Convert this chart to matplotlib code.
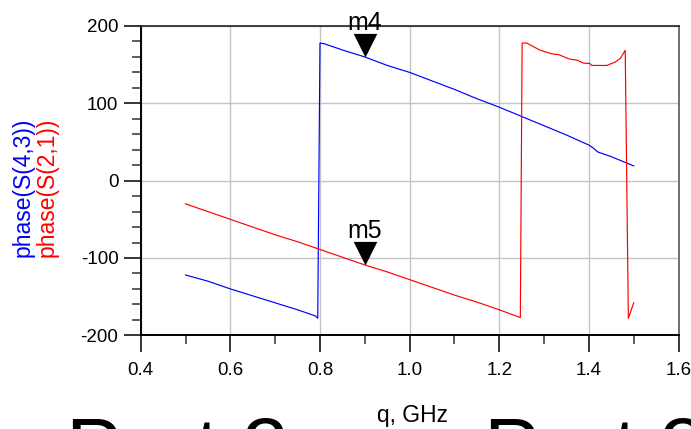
#!/usr/bin/env python3
"""Fase de S(4,3) y S(2,1) frente a frecuencia, con marcadores m4 / m5."""

import matplotlib
matplotlib.use("Agg")
import matplotlib.pyplot as plt
from matplotlib.patches import Rectangle
from matplotlib.ticker import MultipleLocator, FormatStrFormatter

plt.rcParams["font.family"] = ["Liberation Sans", "DejaVu Sans"]
plt.rcParams["axes.unicode_minus"] = False

# Datos (freq en GHz, fase en grados)
freq_s43 = [0.50, 0.55, 0.60, 0.65, 0.70, 0.75, 0.79, 0.795,
            0.800, 0.81, 0.85, 0.90, 0.95, 1.00, 1.05, 1.10, 1.15, 1.20,
            1.25, 1.30, 1.35, 1.40, 1.41, 1.42, 1.45, 1.50]
phase_s43 = [-122, -130, -140, -149, -158, -167, -175, -178,
             178, 177, 169, 160, 149, 140, 129, 118, 106, 95,
             83, 71, 59, 46, 42, 37, 31, 19]

freq_s21 = [0.50, 0.55, 0.60, 0.65, 0.70, 0.75, 0.80, 0.85, 0.90, 0.95,
            1.00, 1.05, 1.10, 1.15, 1.20, 1.247,
            1.251, 1.261, 1.29, 1.317, 1.332, 1.358, 1.373, 1.388, 1.402,
            1.406, 1.44, 1.459, 1.47, 1.481, 1.488, 1.50]
phase_s21 = [-30, -40, -50, -60, -70, -79, -89, -99, -109, -118,
             -128, -138, -148, -157, -167, -177,
             178, 178, 169, 164, 163, 157, 156, 152, 151.5,
             149, 149, 153.5, 158, 168.5, -178, -158]

# Marcadores
marker_names = ["m4", "m5"]
marker_freq = [0.9, 0.9]
marker_phase = [160.4, -109.2]

x_ticks = [0.4, 0.6, 0.8, 1.0, 1.2, 1.4, 1.6]
y_ticks = [-200, -100, 0, 100, 200]

BLUE = "#0000ff"
RED = "#ff0000"


def main():
    fig = plt.figure(figsize=(6.91, 4.29), dpi=100)
    ax = fig.add_axes([0.2036, 0.2184, 0.7784, 0.7210])

    ax.plot(freq_s43, phase_s43, color=BLUE, lw=0.85, zorder=3)
    ax.plot(freq_s21, phase_s21, color=RED, lw=0.85, zorder=3)

    # triángulo con la punta en el punto del marcador
    tri = [(-0.5, 1.0), (0.5, 1.0), (0.0, 0.0)]
    for name, fx, py in zip(marker_names, marker_freq, marker_phase):
        ax.plot([fx], [py], marker=tri, ms=34, color="black", mew=0,
                ls="none", zorder=5, clip_on=False)
        ax.annotate(name, xy=(fx, py), xytext=(0, 19.5), textcoords="offset points",
                    ha="center", va="baseline", fontsize=18, zorder=6,
                    annotation_clip=False)

    ax.set_xlim(0.4, 1.6)
    ax.set_ylim(-200, 200)
    ax.set_xticks(x_ticks)
    ax.set_yticks(y_ticks)
    ax.xaxis.set_minor_locator(MultipleLocator(0.1))
    ax.yaxis.set_minor_locator(MultipleLocator(20))
    ax.xaxis.set_major_formatter(FormatStrFormatter("%.1f"))

    ax.grid(True, which="major", color="#c4c4c4", lw=1.0, zorder=0)
    ax.tick_params(which="major", direction="out", length=12, width=1.1,
                   labelsize=13.5, colors="black")
    ax.tick_params(axis="x", which="major", pad=7)
    ax.tick_params(axis="y", which="major", pad=4)
    ax.tick_params(which="minor", direction="out", length=6.5, width=1.1,
                   colors="#333333")

    for side in ["left", "bottom"]:
        ax.spines[side].set_linewidth(1.4)
        ax.spines[side].set_color("black")
    ax.spines["top"].set_linewidth(1.2)
    ax.spines["top"].set_color("#222222")
    ax.spines["right"].set_linewidth(1.4)
    ax.spines["right"].set_color("#707070")

    # etiquetas del eje Y (dos trazas)
    fig.text(23 / 691, 1 - 187 / 429, "phase(S(4,3))", color=BLUE, rotation=90,
             ha="center", va="center", fontsize=16.5)
    fig.text(47 / 691, 1 - 187 / 429, "phase(S(2,1))", color=RED, rotation=90,
             ha="center", va="center", fontsize=16.5)

    # eje X
    fig.text(399 / 691, 1 - 422 / 429, "freq, GHz", ha="center", va="baseline",
             fontsize=16.5, zorder=3)
    fig.patches.append(Rectangle((300 / 691, 0), 76 / 691, 30 / 429,
                                 transform=fig.transFigure, facecolor="white",
                                 edgecolor="none", zorder=5))

    # textos grandes cortados abajo
    fig.text(66 / 691, 1 - 476 / 429, "Port 2", ha="left", va="baseline",
             fontsize=60, zorder=6)
    fig.text(484 / 691, 1 - 476 / 429, "Port 3", ha="left", va="baseline",
             fontsize=60, zorder=6)

    fig.savefig("out.png", dpi=100)
    plt.close(fig)


if __name__ == "__main__":
    main()
